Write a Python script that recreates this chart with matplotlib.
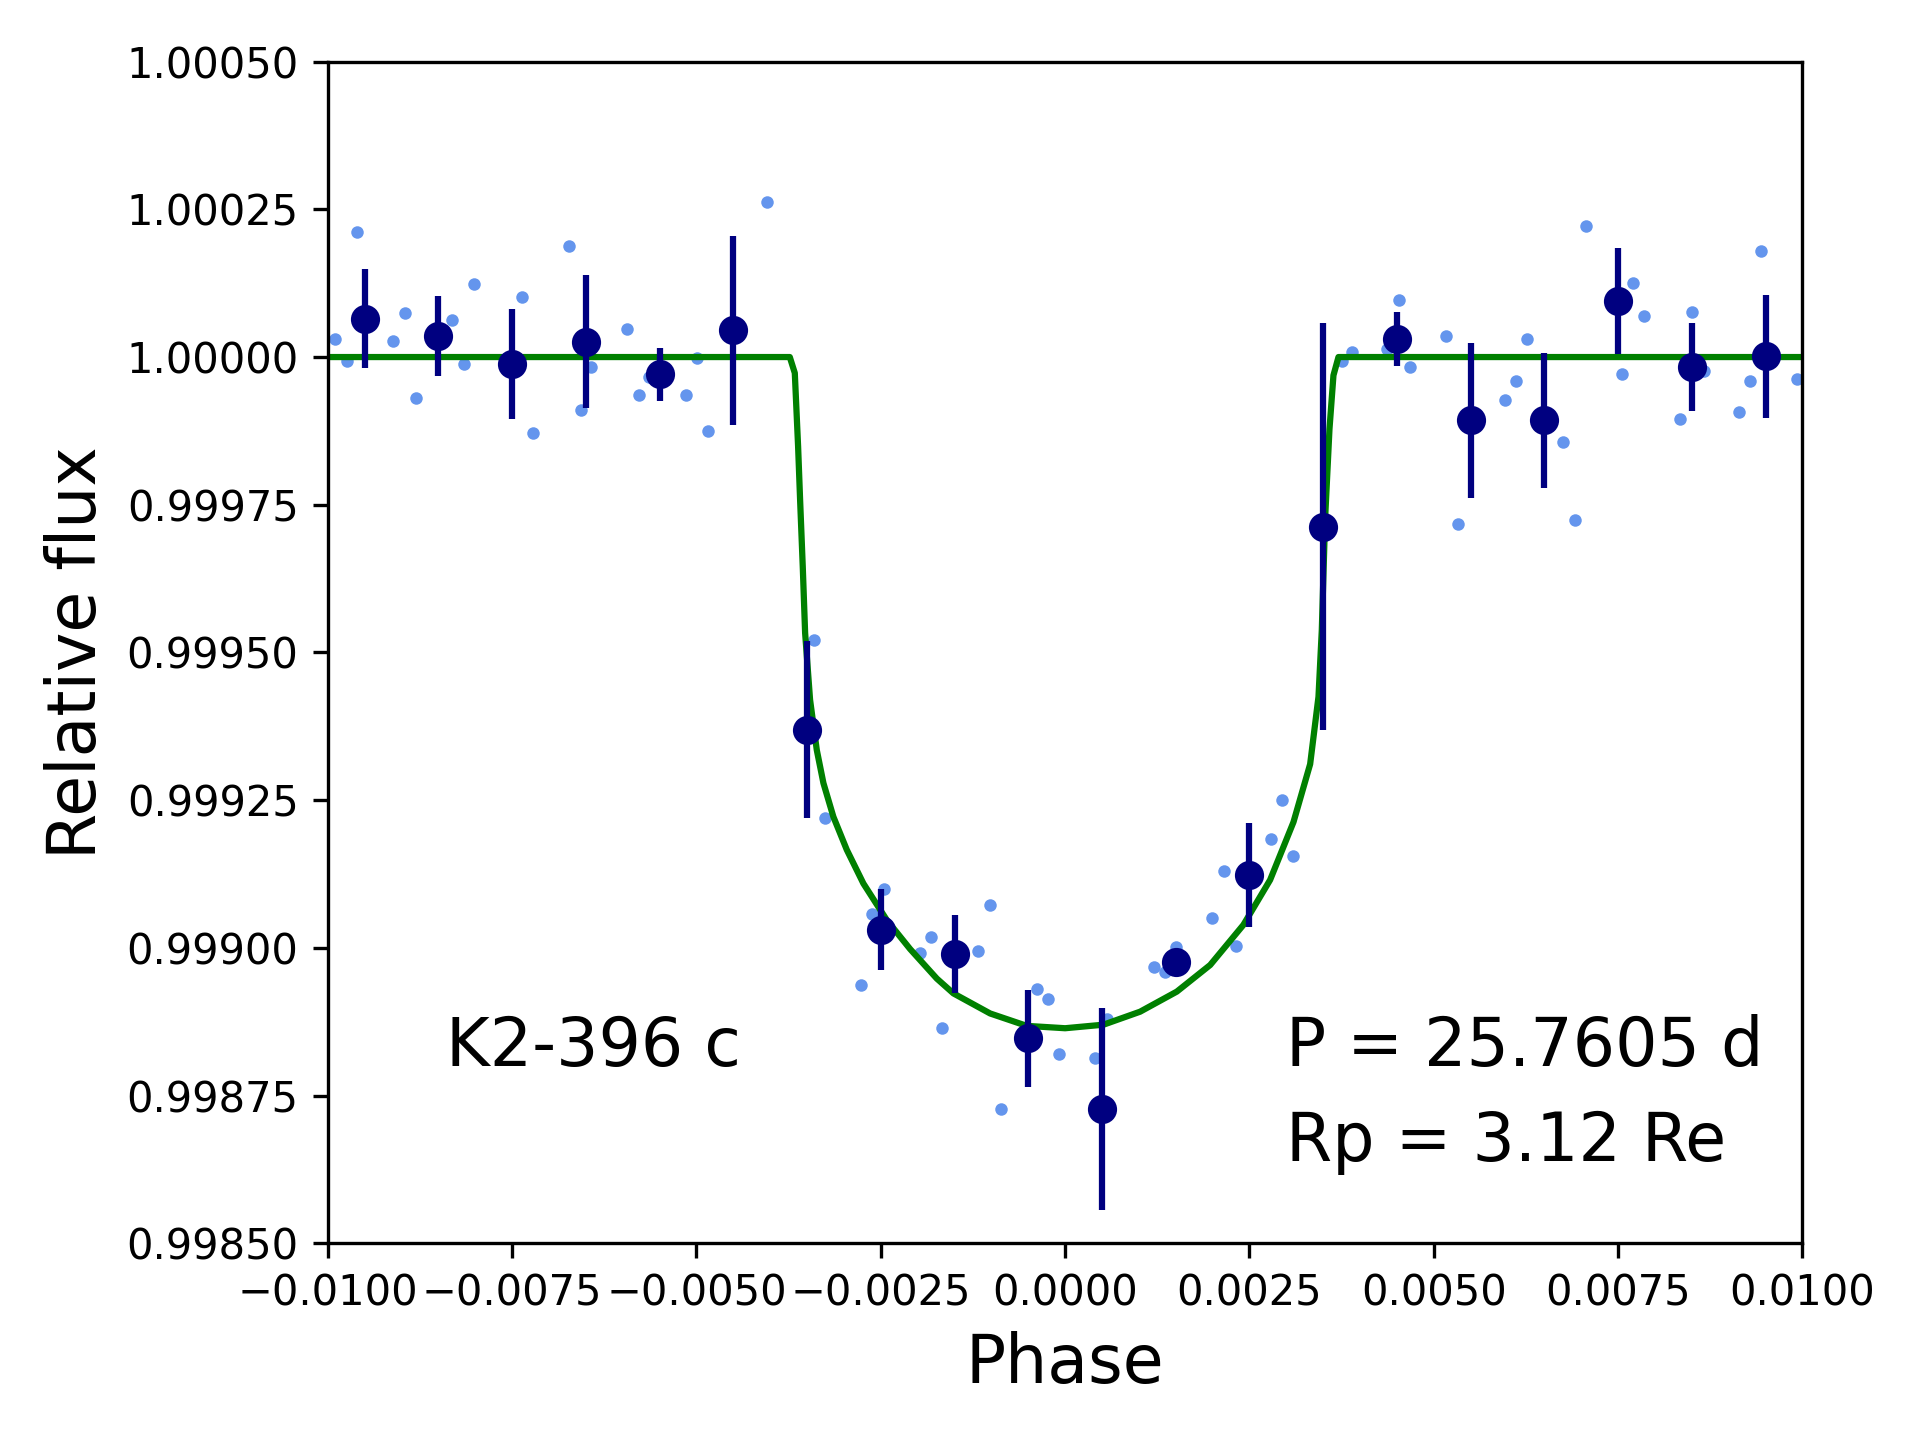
import matplotlib
matplotlib.use("Agg")
import matplotlib.pyplot as plt

# unbinned phase-folded photometry (light points)
phase_raw = [-0.009898, -0.009736, -0.009600, -0.009112, -0.008949, -0.008800,
             -0.008316, -0.008149, -0.008013, -0.007362, -0.007213, -0.006725,
             -0.006562, -0.006426, -0.005938, -0.005775, -0.005643, -0.005138,
             -0.004988, -0.004839, -0.004039, -0.003401, -0.003252, -0.002764,
             -0.002614, -0.002457, -0.001963, -0.001814, -0.001666, -0.001177,
             -0.001014, -0.000865, -0.000376, -0.000227, -0.000079, 0.000410,
             0.000573, 0.001211, 0.001355, 0.001509, 0.001997, 0.002159,
             0.002314, 0.002797, 0.002946, 0.003095, 0.003594, 0.003751,
             0.003896, 0.004370, 0.004533, 0.004683, 0.005170, 0.005333,
             0.005971, 0.006120, 0.006270, 0.006758, 0.006920, 0.007070,
             0.007558, 0.007707, 0.007857, 0.008344, 0.008508, 0.008670,
             0.009145, 0.009294, 0.009444, 0.009932]
flux_raw = [1.000031, 0.999993, 1.000211, 1.000028, 1.000075, 0.999930,
            1.000062, 0.999988, 1.000124, 1.000101, 0.999872, 1.000188,
            0.999910, 0.999984, 1.000048, 0.999935, 0.999967, 0.999935,
            0.999998, 0.999875, 1.000262, 0.999521, 0.999219, 0.998937,
            0.999058, 0.999099, 0.998992, 0.999019, 0.998865, 0.998994,
            0.999073, 0.998727, 0.998930, 0.998914, 0.998820, 0.998814,
            0.998880, 0.998967, 0.998960, 0.999002, 0.999050, 0.999130,
            0.999004, 0.999184, 0.999250, 0.999156, 0.999707, 0.999993,
            1.000009, 1.000013, 1.000096, 0.999984, 1.000035, 0.999717,
            0.999927, 0.999959, 1.000030, 0.999857, 0.999724, 1.000221,
            0.999971, 1.000126, 1.000069, 0.999895, 1.000077, 0.999976,
            0.999907, 0.999959, 1.000179, 0.999962]

# binned points
phase_bin = [-0.0095, -0.0085, -0.0075, -0.0065, -0.0055, -0.0045, -0.0035,
             -0.0025, -0.0015, -0.0005, 0.0005, 0.0015, 0.0025, 0.0035,
             0.0045, 0.0055, 0.0065, 0.0075, 0.0085, 0.0095]
flux_bin = [1.000065, 1.000036, 0.999988, 1.000026, 0.999971, 1.000045,
            0.999369, 0.999031, 0.998989, 0.998847, 0.998727, 0.998976,
            0.999123, 0.999713, 1.000031, 0.999893, 0.999893, 1.000095,
            0.999983, 1.000001]
err_bin = [0.000084, 0.000068, 0.0000925, 0.000113, 0.000045, 0.000160,
           0.000150, 0.000069, 0.000066, 0.000082, 0.000171, 0.000010,
           0.000088, 0.000345, 0.000046, 0.000131, 0.000114, 0.000090,
           0.000074, 0.000104]

# transit model curve
phase_model = [-0.0100, -0.003734, -0.003666, -0.003621, -0.003594, -0.003558,
               -0.003526, -0.003459, -0.003368, -0.003278, -0.003143, -0.002961,
               -0.002736, -0.002418, -0.002102, -0.001740, -0.001515, -0.001017,
               -0.000520, 0.0, 0.000520, 0.001017, 0.001515, 0.001967,
               0.002418, 0.002780, 0.003097, 0.003323, 0.003436, 0.003481,
               0.003526, 0.003585, 0.003639, 0.003707, 0.0100]
flux_model = [1.0, 1.0, 0.999973, 0.999848, 0.999758, 0.999645,
              0.999533, 0.999420, 0.999335, 0.999279, 0.999222, 0.999166,
              0.999109, 0.999047, 0.998998, 0.998948, 0.998923, 0.998889,
              0.998868, 0.998864, 0.998870, 0.998892, 0.998926, 0.998971,
              0.999039, 0.999115, 0.999213, 0.999311, 0.999425, 0.999538,
              0.999727, 0.999878, 0.999969, 1.0, 1.0]

fig = plt.figure(figsize=(6.4, 4.8), dpi=300)
ax = fig.add_axes([0.1707, 0.1366, 0.7681, 0.8206])

ax.plot(phase_raw, flux_raw, 'o', color='cornflowerblue', markersize=3,
        markeredgewidth=0, zorder=1)
ax.plot(phase_model, flux_model, '-', color='green', lw=1.5, zorder=2)
ax.errorbar(phase_bin, flux_bin, yerr=err_bin, fmt='o', color='navy',
            markersize=6, elinewidth=1.5, capsize=0, zorder=3)

ax.text(-0.0084, 0.9988, 'K2-396 c', fontsize=16)
ax.text(0.003, 0.9988, 'P = 25.7605 d', fontsize=16)
ax.text(0.003, 0.99864, 'Rp = 3.12 Re', fontsize=16)

ax.set_xlim(-0.01, 0.01)
ax.set_ylim(0.9985, 1.0005)
ax.set_xticks([-0.01, -0.0075, -0.005, -0.0025, 0.0, 0.0025, 0.005, 0.0075, 0.01])
ax.set_yticks([0.9985, 0.99875, 0.999, 0.99925, 0.9995, 0.99975, 1.0, 1.00025, 1.0005])
ax.ticklabel_format(useOffset=False)
ax.set_xlabel('Phase', fontsize=16)
ax.set_ylabel('Relative flux', fontsize=16)

fig.savefig('out.png', dpi=300)
